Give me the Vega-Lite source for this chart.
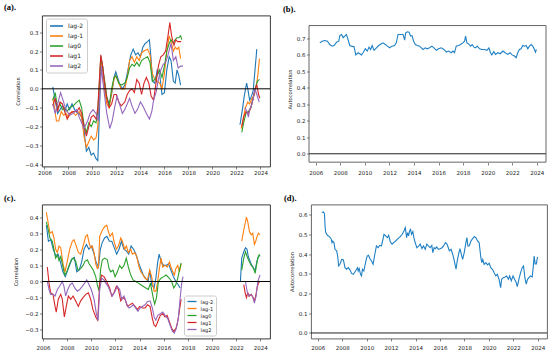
{
"$schema": "https://vega.github.io/schema/vega-lite/v6.json",
"padding": {"left": 3, "top": 2.5, "right": 0, "bottom": 0},
"background": "white",
"config": {
  "axis": {"labelFont": "DejaVu Sans", "labelFontSize": 5.5, "labelColor": "#222", "titleFont": "DejaVu Sans", "titleFontSize": 5.2, "titleFontWeight": "normal", "titleColor": "#222", "tickSize": 2.5, "tickColor": "#333", "tickWidth": 0.6, "labelPadding": 1.5, "domain": false, "grid": false, "titlePadding": 4, "labelFlush": false, "labelOverlap": false},
  "title": {"font": "Liberation Serif", "fontSize": 8.5, "fontWeight": "bold", "color": "#000", "anchor": "start", "frame": "group"},
  "legend": {"labelFont": "DejaVu Sans", "labelColor": "#222"}
},
"resolve": {"scale": {"color": "independent"}, "legend": {"color": "independent"}},
"datasets": {
"a": [
{"s":"lag-2","g":1,"t":2006.7,"v":0.01},{"s":"lag-2","g":1,"t":2006.9,"v":-0.06},{"s":"lag-2","g":1,"t":2007.1,"v":-0.13},{"s":"lag-2","g":1,"t":2007.3,"v":-0.11},{"s":"lag-2","g":1,"t":2007.5,"v":-0.09},{"s":"lag-2","g":1,"t":2007.7,"v":-0.12},{"s":"lag-2","g":1,"t":2007.9,"v":-0.08},{"s":"lag-2","g":1,"t":2008.1,"v":-0.11},{"s":"lag-2","g":1,"t":2008.3,"v":-0.08},{"s":"lag-2","g":1,"t":2008.6,"v":-0.12},{"s":"lag-2","g":1,"t":2008.9,"v":-0.13},{"s":"lag-2","g":1,"t":2009.1,"v":-0.15},{"s":"lag-2","g":1,"t":2009.3,"v":-0.22},{"s":"lag-2","g":1,"t":2009.5,"v":-0.33},{"s":"lag-2","g":1,"t":2009.7,"v":-0.31},{"s":"lag-2","g":1,"t":2009.9,"v":-0.35},{"s":"lag-2","g":1,"t":2010.1,"v":-0.34},{"s":"lag-2","g":1,"t":2010.3,"v":-0.37},{"s":"lag-2","g":1,"t":2010.45,"v":-0.38},{"s":"lag-2","g":1,"t":2010.6,"v":-0.1},{"s":"lag-2","g":1,"t":2010.7,"v":0.17},{"s":"lag-2","g":1,"t":2010.85,"v":0.12},{"s":"lag-2","g":1,"t":2011.0,"v":0.02},{"s":"lag-2","g":1,"t":2011.2,"v":-0.05},{"s":"lag-2","g":1,"t":2011.4,"v":-0.08},{"s":"lag-2","g":1,"t":2011.6,"v":-0.03},{"s":"lag-2","g":1,"t":2011.8,"v":0.06},{"s":"lag-2","g":1,"t":2011.95,"v":0.09},{"s":"lag-2","g":1,"t":2012.1,"v":0.06},{"s":"lag-2","g":1,"t":2012.3,"v":0.02},{"s":"lag-2","g":1,"t":2012.5,"v":0.0},{"s":"lag-2","g":1,"t":2012.7,"v":0.02},{"s":"lag-2","g":1,"t":2012.9,"v":0.08},{"s":"lag-2","g":1,"t":2013.05,"v":0.13},{"s":"lag-2","g":1,"t":2013.2,"v":0.18},{"s":"lag-2","g":1,"t":2013.4,"v":0.21},{"s":"lag-2","g":1,"t":2013.6,"v":0.18},{"s":"lag-2","g":1,"t":2013.8,"v":0.19},{"s":"lag-2","g":1,"t":2014.0,"v":0.17},{"s":"lag-2","g":1,"t":2014.2,"v":0.22},{"s":"lag-2","g":1,"t":2014.4,"v":0.24},{"s":"lag-2","g":1,"t":2014.6,"v":0.25},{"s":"lag-2","g":1,"t":2014.75,"v":0.26},{"s":"lag-2","g":1,"t":2014.9,"v":0.15},{"s":"lag-2","g":1,"t":2015.0,"v":0.04},{"s":"lag-2","g":1,"t":2015.2,"v":0.03},{"s":"lag-2","g":1,"t":2015.4,"v":0.1},{"s":"lag-2","g":1,"t":2015.6,"v":0.08},{"s":"lag-2","g":1,"t":2015.8,"v":-0.03},{"s":"lag-2","g":1,"t":2016.0,"v":-0.02},{"s":"lag-2","g":1,"t":2016.2,"v":0.1},{"s":"lag-2","g":1,"t":2016.4,"v":0.17},{"s":"lag-2","g":1,"t":2016.55,"v":0.15},{"s":"lag-2","g":1,"t":2016.75,"v":0.04},{"s":"lag-2","g":1,"t":2016.9,"v":0.03},{"s":"lag-2","g":1,"t":2017.05,"v":0.1},{"s":"lag-2","g":1,"t":2017.2,"v":0.07},{"s":"lag-2","g":1,"t":2017.35,"v":0.02},
{"s":"lag-2","g":2,"t":2022.3,"v":-0.19},{"s":"lag-2","g":2,"t":2022.5,"v":-0.11},{"s":"lag-2","g":2,"t":2022.65,"v":-0.04},{"s":"lag-2","g":2,"t":2022.85,"v":0.03},{"s":"lag-2","g":2,"t":2022.95,"v":0.0},{"s":"lag-2","g":2,"t":2023.1,"v":-0.06},{"s":"lag-2","g":2,"t":2023.25,"v":-0.04},{"s":"lag-2","g":2,"t":2023.4,"v":-0.01},{"s":"lag-2","g":2,"t":2023.55,"v":0.1},{"s":"lag-2","g":2,"t":2023.7,"v":0.21},
{"s":"lag-1","g":1,"t":2006.7,"v":-0.05},{"s":"lag-1","g":1,"t":2006.85,"v":-0.1},{"s":"lag-1","g":1,"t":2007.0,"v":-0.17},{"s":"lag-1","g":1,"t":2007.2,"v":-0.17},{"s":"lag-1","g":1,"t":2007.4,"v":-0.12},{"s":"lag-1","g":1,"t":2007.6,"v":-0.14},{"s":"lag-1","g":1,"t":2007.8,"v":-0.13},{"s":"lag-1","g":1,"t":2008.0,"v":-0.15},{"s":"lag-1","g":1,"t":2008.3,"v":-0.12},{"s":"lag-1","g":1,"t":2008.6,"v":-0.14},{"s":"lag-1","g":1,"t":2008.9,"v":-0.12},{"s":"lag-1","g":1,"t":2009.1,"v":-0.15},{"s":"lag-1","g":1,"t":2009.3,"v":-0.25},{"s":"lag-1","g":1,"t":2009.5,"v":-0.31},{"s":"lag-1","g":1,"t":2009.7,"v":-0.28},{"s":"lag-1","g":1,"t":2009.9,"v":-0.25},{"s":"lag-1","g":1,"t":2010.1,"v":-0.27},{"s":"lag-1","g":1,"t":2010.3,"v":-0.26},{"s":"lag-1","g":1,"t":2010.45,"v":-0.2},{"s":"lag-1","g":1,"t":2010.7,"v":0.16},{"s":"lag-1","g":1,"t":2010.85,"v":0.1},{"s":"lag-1","g":1,"t":2011.0,"v":0.0},{"s":"lag-1","g":1,"t":2011.2,"v":-0.08},{"s":"lag-1","g":1,"t":2011.4,"v":-0.1},{"s":"lag-1","g":1,"t":2011.6,"v":-0.02},{"s":"lag-1","g":1,"t":2011.8,"v":0.05},{"s":"lag-1","g":1,"t":2011.95,"v":0.07},{"s":"lag-1","g":1,"t":2012.2,"v":0.03},{"s":"lag-1","g":1,"t":2012.4,"v":0.0},{"s":"lag-1","g":1,"t":2012.7,"v":0.0},{"s":"lag-1","g":1,"t":2012.9,"v":0.06},{"s":"lag-1","g":1,"t":2013.1,"v":0.15},{"s":"lag-1","g":1,"t":2013.3,"v":0.17},{"s":"lag-1","g":1,"t":2013.5,"v":0.14},{"s":"lag-1","g":1,"t":2013.7,"v":0.17},{"s":"lag-1","g":1,"t":2013.9,"v":0.15},{"s":"lag-1","g":1,"t":2014.1,"v":0.19},{"s":"lag-1","g":1,"t":2014.3,"v":0.2},{"s":"lag-1","g":1,"t":2014.6,"v":0.21},{"s":"lag-1","g":1,"t":2014.8,"v":0.18},{"s":"lag-1","g":1,"t":2015.0,"v":0.08},{"s":"lag-1","g":1,"t":2015.2,"v":0.05},{"s":"lag-1","g":1,"t":2015.4,"v":0.04},{"s":"lag-1","g":1,"t":2015.6,"v":0.03},{"s":"lag-1","g":1,"t":2015.8,"v":0.0},{"s":"lag-1","g":1,"t":2016.0,"v":0.08},{"s":"lag-1","g":1,"t":2016.2,"v":0.2},{"s":"lag-1","g":1,"t":2016.4,"v":0.28},{"s":"lag-1","g":1,"t":2016.55,"v":0.25},{"s":"lag-1","g":1,"t":2016.75,"v":0.2},{"s":"lag-1","g":1,"t":2016.9,"v":0.22},{"s":"lag-1","g":1,"t":2017.05,"v":0.21},{"s":"lag-1","g":1,"t":2017.2,"v":0.22},{"s":"lag-1","g":1,"t":2017.35,"v":0.16},
{"s":"lag-1","g":2,"t":2022.4,"v":-0.21},{"s":"lag-1","g":2,"t":2022.6,"v":-0.15},{"s":"lag-1","g":2,"t":2022.75,"v":-0.1},{"s":"lag-1","g":2,"t":2022.95,"v":-0.07},{"s":"lag-1","g":2,"t":2023.1,"v":-0.08},{"s":"lag-1","g":2,"t":2023.3,"v":-0.05},{"s":"lag-1","g":2,"t":2023.5,"v":-0.03},{"s":"lag-1","g":2,"t":2023.65,"v":0.01},{"s":"lag-1","g":2,"t":2023.8,"v":0.08},{"s":"lag-1","g":2,"t":2023.92,"v":0.16},
{"s":"lag0","g":1,"t":2006.7,"v":-0.06},{"s":"lag0","g":1,"t":2006.9,"v":-0.02},{"s":"lag0","g":1,"t":2007.1,"v":-0.1},{"s":"lag0","g":1,"t":2007.3,"v":-0.08},{"s":"lag0","g":1,"t":2007.5,"v":-0.11},{"s":"lag0","g":1,"t":2007.7,"v":-0.1},{"s":"lag0","g":1,"t":2007.9,"v":-0.12},{"s":"lag0","g":1,"t":2008.1,"v":-0.1},{"s":"lag0","g":1,"t":2008.4,"v":-0.09},{"s":"lag0","g":1,"t":2008.7,"v":-0.07},{"s":"lag0","g":1,"t":2008.9,"v":-0.06},{"s":"lag0","g":1,"t":2009.1,"v":-0.1},{"s":"lag0","g":1,"t":2009.3,"v":-0.19},{"s":"lag0","g":1,"t":2009.5,"v":-0.23},{"s":"lag0","g":1,"t":2009.7,"v":-0.18},{"s":"lag0","g":1,"t":2009.9,"v":-0.2},{"s":"lag0","g":1,"t":2010.1,"v":-0.17},{"s":"lag0","g":1,"t":2010.3,"v":-0.18},{"s":"lag0","g":1,"t":2010.45,"v":-0.12},{"s":"lag0","g":1,"t":2010.7,"v":0.17},{"s":"lag0","g":1,"t":2010.85,"v":0.12},{"s":"lag0","g":1,"t":2011.0,"v":0.05},{"s":"lag0","g":1,"t":2011.2,"v":-0.04},{"s":"lag0","g":1,"t":2011.4,"v":-0.09},{"s":"lag0","g":1,"t":2011.6,"v":0.0},{"s":"lag0","g":1,"t":2011.8,"v":0.06},{"s":"lag0","g":1,"t":2011.95,"v":0.07},{"s":"lag0","g":1,"t":2012.2,"v":0.03},{"s":"lag0","g":1,"t":2012.4,"v":0.02},{"s":"lag0","g":1,"t":2012.7,"v":0.03},{"s":"lag0","g":1,"t":2012.9,"v":0.06},{"s":"lag0","g":1,"t":2013.1,"v":0.11},{"s":"lag0","g":1,"t":2013.3,"v":0.13},{"s":"lag0","g":1,"t":2013.5,"v":0.12},{"s":"lag0","g":1,"t":2013.7,"v":0.14},{"s":"lag0","g":1,"t":2013.9,"v":0.12},{"s":"lag0","g":1,"t":2014.1,"v":0.15},{"s":"lag0","g":1,"t":2014.3,"v":0.16},{"s":"lag0","g":1,"t":2014.6,"v":0.17},{"s":"lag0","g":1,"t":2014.8,"v":0.14},{"s":"lag0","g":1,"t":2015.0,"v":0.04},{"s":"lag0","g":1,"t":2015.2,"v":0.05},{"s":"lag0","g":1,"t":2015.4,"v":0.07},{"s":"lag0","g":1,"t":2015.6,"v":0.1},{"s":"lag0","g":1,"t":2015.8,"v":0.06},{"s":"lag0","g":1,"t":2016.0,"v":0.12},{"s":"lag0","g":1,"t":2016.2,"v":0.2},{"s":"lag0","g":1,"t":2016.4,"v":0.24},{"s":"lag0","g":1,"t":2016.55,"v":0.26},{"s":"lag0","g":1,"t":2016.75,"v":0.24},{"s":"lag0","g":1,"t":2016.9,"v":0.26},{"s":"lag0","g":1,"t":2017.05,"v":0.27},{"s":"lag0","g":1,"t":2017.2,"v":0.27},{"s":"lag0","g":1,"t":2017.35,"v":0.28},{"s":"lag0","g":1,"t":2017.45,"v":0.26},
{"s":"lag0","g":2,"t":2022.45,"v":-0.23},{"s":"lag0","g":2,"t":2022.6,"v":-0.18},{"s":"lag0","g":2,"t":2022.8,"v":-0.13},{"s":"lag0","g":2,"t":2023.0,"v":-0.12},{"s":"lag0","g":2,"t":2023.2,"v":-0.1},{"s":"lag0","g":2,"t":2023.4,"v":-0.05},{"s":"lag0","g":2,"t":2023.6,"v":0.01},{"s":"lag0","g":2,"t":2023.75,"v":0.04},{"s":"lag0","g":2,"t":2023.92,"v":0.05},
{"s":"lag1","g":1,"t":2006.7,"v":-0.09},{"s":"lag1","g":1,"t":2006.9,"v":-0.05},{"s":"lag1","g":1,"t":2007.1,"v":-0.12},{"s":"lag1","g":1,"t":2007.3,"v":-0.07},{"s":"lag1","g":1,"t":2007.5,"v":-0.08},{"s":"lag1","g":1,"t":2007.7,"v":-0.12},{"s":"lag1","g":1,"t":2007.9,"v":-0.16},{"s":"lag1","g":1,"t":2008.1,"v":-0.13},{"s":"lag1","g":1,"t":2008.4,"v":-0.12},{"s":"lag1","g":1,"t":2008.7,"v":-0.12},{"s":"lag1","g":1,"t":2008.9,"v":-0.1},{"s":"lag1","g":1,"t":2009.1,"v":-0.13},{"s":"lag1","g":1,"t":2009.3,"v":-0.2},{"s":"lag1","g":1,"t":2009.5,"v":-0.25},{"s":"lag1","g":1,"t":2009.7,"v":-0.2},{"s":"lag1","g":1,"t":2009.9,"v":-0.15},{"s":"lag1","g":1,"t":2010.1,"v":-0.14},{"s":"lag1","g":1,"t":2010.3,"v":-0.16},{"s":"lag1","g":1,"t":2010.45,"v":-0.1},{"s":"lag1","g":1,"t":2010.7,"v":0.18},{"s":"lag1","g":1,"t":2010.85,"v":0.12},{"s":"lag1","g":1,"t":2011.0,"v":0.04},{"s":"lag1","g":1,"t":2011.2,"v":-0.05},{"s":"lag1","g":1,"t":2011.4,"v":-0.1},{"s":"lag1","g":1,"t":2011.6,"v":-0.08},{"s":"lag1","g":1,"t":2011.8,"v":-0.03},{"s":"lag1","g":1,"t":2012.0,"v":-0.03},{"s":"lag1","g":1,"t":2012.2,"v":-0.07},{"s":"lag1","g":1,"t":2012.4,"v":-0.09},{"s":"lag1","g":1,"t":2012.7,"v":-0.07},{"s":"lag1","g":1,"t":2012.9,"v":-0.03},{"s":"lag1","g":1,"t":2013.1,"v":-0.01},{"s":"lag1","g":1,"t":2013.3,"v":0.0},{"s":"lag1","g":1,"t":2013.5,"v":-0.02},{"s":"lag1","g":1,"t":2013.7,"v":0.05},{"s":"lag1","g":1,"t":2013.9,"v":0.03},{"s":"lag1","g":1,"t":2014.1,"v":-0.03},{"s":"lag1","g":1,"t":2014.3,"v":0.03},{"s":"lag1","g":1,"t":2014.5,"v":0.06},{"s":"lag1","g":1,"t":2014.7,"v":0.03},{"s":"lag1","g":1,"t":2014.9,"v":-0.04},{"s":"lag1","g":1,"t":2015.1,"v":-0.06},{"s":"lag1","g":1,"t":2015.3,"v":0.03},{"s":"lag1","g":1,"t":2015.5,"v":0.12},{"s":"lag1","g":1,"t":2015.7,"v":0.17},{"s":"lag1","g":1,"t":2015.9,"v":0.18},{"s":"lag1","g":1,"t":2016.1,"v":0.2},{"s":"lag1","g":1,"t":2016.3,"v":0.28},{"s":"lag1","g":1,"t":2016.45,"v":0.35},{"s":"lag1","g":1,"t":2016.6,"v":0.28},{"s":"lag1","g":1,"t":2016.8,"v":0.23},{"s":"lag1","g":1,"t":2016.95,"v":0.26},{"s":"lag1","g":1,"t":2017.1,"v":0.25},{"s":"lag1","g":1,"t":2017.25,"v":0.25},{"s":"lag1","g":1,"t":2017.4,"v":0.25},
{"s":"lag1","g":2,"t":2022.45,"v":-0.2},{"s":"lag1","g":2,"t":2022.6,"v":-0.15},{"s":"lag1","g":2,"t":2022.8,"v":-0.12},{"s":"lag1","g":2,"t":2023.0,"v":-0.13},{"s":"lag1","g":2,"t":2023.2,"v":-0.1},{"s":"lag1","g":2,"t":2023.4,"v":-0.05},{"s":"lag1","g":2,"t":2023.55,"v":0.0},{"s":"lag1","g":2,"t":2023.7,"v":0.02},{"s":"lag1","g":2,"t":2023.85,"v":-0.03},{"s":"lag1","g":2,"t":2023.95,"v":-0.05},
{"s":"lag2","g":1,"t":2006.7,"v":-0.08},{"s":"lag2","g":1,"t":2006.9,"v":-0.13},{"s":"lag2","g":1,"t":2007.1,"v":-0.08},{"s":"lag2","g":1,"t":2007.35,"v":-0.02},{"s":"lag2","g":1,"t":2007.55,"v":-0.06},{"s":"lag2","g":1,"t":2007.8,"v":-0.11},{"s":"lag2","g":1,"t":2008.1,"v":-0.14},{"s":"lag2","g":1,"t":2008.4,"v":-0.13},{"s":"lag2","g":1,"t":2008.7,"v":-0.11},{"s":"lag2","g":1,"t":2008.9,"v":-0.15},{"s":"lag2","g":1,"t":2009.3,"v":-0.21},{"s":"lag2","g":1,"t":2009.6,"v":-0.17},{"s":"lag2","g":1,"t":2009.8,"v":-0.13},{"s":"lag2","g":1,"t":2010.05,"v":-0.11},{"s":"lag2","g":1,"t":2010.3,"v":-0.13},{"s":"lag2","g":1,"t":2010.48,"v":-0.17},{"s":"lag2","g":1,"t":2010.65,"v":-0.01},{"s":"lag2","g":1,"t":2010.75,"v":0.12},{"s":"lag2","g":1,"t":2010.85,"v":0.05},{"s":"lag2","g":1,"t":2011.2,"v":-0.13},{"s":"lag2","g":1,"t":2011.45,"v":-0.21},{"s":"lag2","g":1,"t":2011.65,"v":-0.17},{"s":"lag2","g":1,"t":2011.85,"v":-0.1},{"s":"lag2","g":1,"t":2012.05,"v":-0.04},{"s":"lag2","g":1,"t":2012.25,"v":-0.08},{"s":"lag2","g":1,"t":2012.5,"v":-0.13},{"s":"lag2","g":1,"t":2012.7,"v":-0.11},{"s":"lag2","g":1,"t":2012.9,"v":-0.08},{"s":"lag2","g":1,"t":2013.1,"v":-0.05},{"s":"lag2","g":1,"t":2013.3,"v":-0.09},{"s":"lag2","g":1,"t":2013.55,"v":-0.13},{"s":"lag2","g":1,"t":2013.75,"v":-0.11},{"s":"lag2","g":1,"t":2014.0,"v":-0.07},{"s":"lag2","g":1,"t":2014.2,"v":-0.09},{"s":"lag2","g":1,"t":2014.5,"v":-0.13},{"s":"lag2","g":1,"t":2014.75,"v":-0.16},{"s":"lag2","g":1,"t":2014.95,"v":-0.12},{"s":"lag2","g":1,"t":2015.1,"v":-0.06},{"s":"lag2","g":1,"t":2015.3,"v":-0.02},{"s":"lag2","g":1,"t":2015.5,"v":0.05},{"s":"lag2","g":1,"t":2015.7,"v":0.1},{"s":"lag2","g":1,"t":2015.9,"v":0.13},{"s":"lag2","g":1,"t":2016.1,"v":0.14},{"s":"lag2","g":1,"t":2016.3,"v":0.18},{"s":"lag2","g":1,"t":2016.55,"v":0.24},{"s":"lag2","g":1,"t":2016.75,"v":0.15},{"s":"lag2","g":1,"t":2016.95,"v":0.17},{"s":"lag2","g":1,"t":2017.15,"v":0.11},{"s":"lag2","g":1,"t":2017.35,"v":0.12},{"s":"lag2","g":1,"t":2017.55,"v":0.12},
{"s":"lag2","g":2,"t":2022.7,"v":-0.1},{"s":"lag2","g":2,"t":2022.88,"v":-0.12},{"s":"lag2","g":2,"t":2023.0,"v":-0.15},{"s":"lag2","g":2,"t":2023.1,"v":-0.11},{"s":"lag2","g":2,"t":2023.25,"v":-0.09},{"s":"lag2","g":2,"t":2023.4,"v":-0.05},{"s":"lag2","g":2,"t":2023.55,"v":0.0},{"s":"lag2","g":2,"t":2023.7,"v":-0.03},{"s":"lag2","g":2,"t":2023.9,"v":-0.07}
],
"c": [
{"s":"lag-2","g":1,"t":2006.28,"v":0.35},{"s":"lag-2","g":1,"t":2006.45,"v":0.25},{"s":"lag-2","g":1,"t":2006.65,"v":0.26},{"s":"lag-2","g":1,"t":2006.85,"v":0.2},{"s":"lag-2","g":1,"t":2007.05,"v":0.16},{"s":"lag-2","g":1,"t":2007.25,"v":0.17},{"s":"lag-2","g":1,"t":2007.45,"v":0.12},{"s":"lag-2","g":1,"t":2007.65,"v":0.06},{"s":"lag-2","g":1,"t":2007.85,"v":0.03},{"s":"lag-2","g":1,"t":2008.0,"v":0.06},{"s":"lag-2","g":1,"t":2008.2,"v":0.1},{"s":"lag-2","g":1,"t":2008.4,"v":0.14},{"s":"lag-2","g":1,"t":2008.6,"v":0.15},{"s":"lag-2","g":1,"t":2008.8,"v":0.06},{"s":"lag-2","g":1,"t":2009.0,"v":0.07},{"s":"lag-2","g":1,"t":2009.2,"v":0.12},{"s":"lag-2","g":1,"t":2009.4,"v":0.2},{"s":"lag-2","g":1,"t":2009.6,"v":0.23},{"s":"lag-2","g":1,"t":2009.8,"v":0.2},{"s":"lag-2","g":1,"t":2010.0,"v":0.22},{"s":"lag-2","g":1,"t":2010.2,"v":0.18},{"s":"lag-2","g":1,"t":2010.4,"v":0.12},{"s":"lag-2","g":1,"t":2010.6,"v":0.09},{"s":"lag-2","g":1,"t":2010.75,"v":0.2},{"s":"lag-2","g":1,"t":2010.9,"v":0.24},{"s":"lag-2","g":1,"t":2011.1,"v":0.27},{"s":"lag-2","g":1,"t":2011.3,"v":0.28},{"s":"lag-2","g":1,"t":2011.5,"v":0.25},{"s":"lag-2","g":1,"t":2011.7,"v":0.25},{"s":"lag-2","g":1,"t":2011.9,"v":0.21},{"s":"lag-2","g":1,"t":2012.1,"v":0.17},{"s":"lag-2","g":1,"t":2012.3,"v":0.2},{"s":"lag-2","g":1,"t":2012.5,"v":0.25},{"s":"lag-2","g":1,"t":2012.7,"v":0.2},{"s":"lag-2","g":1,"t":2012.9,"v":0.19},{"s":"lag-2","g":1,"t":2013.1,"v":0.17},{"s":"lag-2","g":1,"t":2013.3,"v":0.22},{"s":"lag-2","g":1,"t":2013.5,"v":0.2},{"s":"lag-2","g":1,"t":2013.7,"v":0.17},{"s":"lag-2","g":1,"t":2013.9,"v":0.12},{"s":"lag-2","g":1,"t":2014.1,"v":0.08},{"s":"lag-2","g":1,"t":2014.3,"v":0.04},{"s":"lag-2","g":1,"t":2014.5,"v":0.02},{"s":"lag-2","g":1,"t":2014.7,"v":0.0},{"s":"lag-2","g":1,"t":2014.85,"v":0.07},{"s":"lag-2","g":1,"t":2015.0,"v":-0.02},{"s":"lag-2","g":1,"t":2015.2,"v":-0.04},{"s":"lag-2","g":1,"t":2015.35,"v":0.02},{"s":"lag-2","g":1,"t":2015.5,"v":0.12},{"s":"lag-2","g":1,"t":2015.62,"v":0.17},{"s":"lag-2","g":1,"t":2015.8,"v":0.12},{"s":"lag-2","g":1,"t":2016.0,"v":0.1},{"s":"lag-2","g":1,"t":2016.2,"v":0.1},{"s":"lag-2","g":1,"t":2016.4,"v":0.11},{"s":"lag-2","g":1,"t":2016.6,"v":0.07},{"s":"lag-2","g":1,"t":2016.8,"v":0.03},{"s":"lag-2","g":1,"t":2017.0,"v":0.0},{"s":"lag-2","g":1,"t":2017.2,"v":-0.02},{"s":"lag-2","g":1,"t":2017.35,"v":-0.04},
{"s":"lag-2","g":2,"t":2022.35,"v":0.0},{"s":"lag-2","g":2,"t":2022.46,"v":0.145},{"s":"lag-2","g":2,"t":2022.63,"v":0.185},{"s":"lag-2","g":2,"t":2022.77,"v":0.21},{"s":"lag-2","g":2,"t":2022.9,"v":0.2},{"s":"lag-2","g":2,"t":2023.0,"v":0.155},{"s":"lag-2","g":2,"t":2023.18,"v":0.12},{"s":"lag-2","g":2,"t":2023.3,"v":0.1},{"s":"lag-2","g":2,"t":2023.45,"v":0.08},{"s":"lag-2","g":2,"t":2023.57,"v":0.07},{"s":"lag-2","g":2,"t":2023.73,"v":0.13},{"s":"lag-2","g":2,"t":2023.85,"v":0.155},{"s":"lag-2","g":2,"t":2023.96,"v":0.165},
{"s":"lag-1","g":1,"t":2006.28,"v":0.43},{"s":"lag-1","g":1,"t":2006.44,"v":0.36},{"s":"lag-1","g":1,"t":2006.58,"v":0.3},{"s":"lag-1","g":1,"t":2006.77,"v":0.31},{"s":"lag-1","g":1,"t":2006.91,"v":0.27},{"s":"lag-1","g":1,"t":2007.05,"v":0.2},{"s":"lag-1","g":1,"t":2007.19,"v":0.18},{"s":"lag-1","g":1,"t":2007.33,"v":0.22},{"s":"lag-1","g":1,"t":2007.47,"v":0.21},{"s":"lag-1","g":1,"t":2007.66,"v":0.11},{"s":"lag-1","g":1,"t":2007.82,"v":0.06},{"s":"lag-1","g":1,"t":2008.0,"v":0.12},{"s":"lag-1","g":1,"t":2008.21,"v":0.2},{"s":"lag-1","g":1,"t":2008.43,"v":0.25},{"s":"lag-1","g":1,"t":2008.57,"v":0.26},{"s":"lag-1","g":1,"t":2008.76,"v":0.22},{"s":"lag-1","g":1,"t":2008.93,"v":0.18},{"s":"lag-1","g":1,"t":2009.12,"v":0.17},{"s":"lag-1","g":1,"t":2009.32,"v":0.22},{"s":"lag-1","g":1,"t":2009.54,"v":0.28},{"s":"lag-1","g":1,"t":2009.68,"v":0.29},{"s":"lag-1","g":1,"t":2009.82,"v":0.24},{"s":"lag-1","g":1,"t":2009.95,"v":0.21},{"s":"lag-1","g":1,"t":2010.09,"v":0.22},{"s":"lag-1","g":1,"t":2010.23,"v":0.18},{"s":"lag-1","g":1,"t":2010.37,"v":0.11},{"s":"lag-1","g":1,"t":2010.5,"v":0.08},{"s":"lag-1","g":1,"t":2010.59,"v":0.09},{"s":"lag-1","g":1,"t":2010.7,"v":0.28},{"s":"lag-1","g":1,"t":2010.92,"v":0.32},{"s":"lag-1","g":1,"t":2011.11,"v":0.34},{"s":"lag-1","g":1,"t":2011.28,"v":0.35},{"s":"lag-1","g":1,"t":2011.42,"v":0.31},{"s":"lag-1","g":1,"t":2011.55,"v":0.28},{"s":"lag-1","g":1,"t":2011.75,"v":0.3},{"s":"lag-1","g":1,"t":2011.88,"v":0.25},{"s":"lag-1","g":1,"t":2012.08,"v":0.2},{"s":"lag-1","g":1,"t":2012.25,"v":0.22},{"s":"lag-1","g":1,"t":2012.44,"v":0.27},{"s":"lag-1","g":1,"t":2012.58,"v":0.25},{"s":"lag-1","g":1,"t":2012.77,"v":0.2},{"s":"lag-1","g":1,"t":2012.91,"v":0.22},{"s":"lag-1","g":1,"t":2013.07,"v":0.18},{"s":"lag-1","g":1,"t":2013.27,"v":0.2},{"s":"lag-1","g":1,"t":2013.4,"v":0.17},{"s":"lag-1","g":1,"t":2013.6,"v":0.18},{"s":"lag-1","g":1,"t":2013.76,"v":0.155},{"s":"lag-1","g":1,"t":2013.96,"v":0.09},{"s":"lag-1","g":1,"t":2014.1,"v":0.06},{"s":"lag-1","g":1,"t":2014.29,"v":0.04},{"s":"lag-1","g":1,"t":2014.45,"v":0.02},{"s":"lag-1","g":1,"t":2014.65,"v":0.01},{"s":"lag-1","g":1,"t":2014.84,"v":0.07},{"s":"lag-1","g":1,"t":2015.0,"v":0.03},{"s":"lag-1","g":1,"t":2015.2,"v":-0.06},{"s":"lag-1","g":1,"t":2015.36,"v":-0.06},{"s":"lag-1","g":1,"t":2015.5,"v":0.0},{"s":"lag-1","g":1,"t":2015.64,"v":0.08},{"s":"lag-1","g":1,"t":2015.78,"v":0.145},{"s":"lag-1","g":1,"t":2015.92,"v":0.09},{"s":"lag-1","g":1,"t":2016.1,"v":0.1},{"s":"lag-1","g":1,"t":2016.3,"v":0.09},{"s":"lag-1","g":1,"t":2016.47,"v":0.12},{"s":"lag-1","g":1,"t":2016.6,"v":0.09},{"s":"lag-1","g":1,"t":2016.75,"v":0.06},{"s":"lag-1","g":1,"t":2016.88,"v":0.04},{"s":"lag-1","g":1,"t":2017.0,"v":0.08},{"s":"lag-1","g":1,"t":2017.16,"v":0.1},{"s":"lag-1","g":1,"t":2017.3,"v":0.06},{"s":"lag-1","g":1,"t":2017.44,"v":0.11},
{"s":"lag-1","g":2,"t":2022.46,"v":0.25},{"s":"lag-1","g":2,"t":2022.63,"v":0.32},{"s":"lag-1","g":2,"t":2022.74,"v":0.36},{"s":"lag-1","g":2,"t":2022.85,"v":0.4},{"s":"lag-1","g":2,"t":2022.96,"v":0.37},{"s":"lag-1","g":2,"t":2023.1,"v":0.31},{"s":"lag-1","g":2,"t":2023.24,"v":0.29},{"s":"lag-1","g":2,"t":2023.37,"v":0.3},{"s":"lag-1","g":2,"t":2023.51,"v":0.23},{"s":"lag-1","g":2,"t":2023.62,"v":0.25},{"s":"lag-1","g":2,"t":2023.73,"v":0.28},{"s":"lag-1","g":2,"t":2023.84,"v":0.3},{"s":"lag-1","g":2,"t":2023.96,"v":0.29},
{"s":"lag0","g":1,"t":2006.28,"v":0.37},{"s":"lag0","g":1,"t":2006.44,"v":0.32},{"s":"lag0","g":1,"t":2006.58,"v":0.27},{"s":"lag0","g":1,"t":2006.77,"v":0.25},{"s":"lag0","g":1,"t":2006.91,"v":0.2},{"s":"lag0","g":1,"t":2007.05,"v":0.145},{"s":"lag0","g":1,"t":2007.19,"v":0.165},{"s":"lag0","g":1,"t":2007.33,"v":0.13},{"s":"lag0","g":1,"t":2007.47,"v":0.155},{"s":"lag0","g":1,"t":2007.66,"v":0.09},{"s":"lag0","g":1,"t":2007.8,"v":0.04},{"s":"lag0","g":1,"t":2007.97,"v":0.06},{"s":"lag0","g":1,"t":2008.16,"v":0.1},{"s":"lag0","g":1,"t":2008.35,"v":0.135},{"s":"lag0","g":1,"t":2008.52,"v":0.145},{"s":"lag0","g":1,"t":2008.71,"v":0.125},{"s":"lag0","g":1,"t":2008.9,"v":0.07},{"s":"lag0","g":1,"t":2009.12,"v":0.08},{"s":"lag0","g":1,"t":2009.32,"v":0.1},{"s":"lag0","g":1,"t":2009.48,"v":0.125},{"s":"lag0","g":1,"t":2009.68,"v":0.135},{"s":"lag0","g":1,"t":2009.82,"v":0.11},{"s":"lag0","g":1,"t":2010.0,"v":0.09},{"s":"lag0","g":1,"t":2010.17,"v":0.07},{"s":"lag0","g":1,"t":2010.37,"v":0.03},{"s":"lag0","g":1,"t":2010.5,"v":-0.02},{"s":"lag0","g":1,"t":2010.64,"v":-0.06},{"s":"lag0","g":1,"t":2010.78,"v":0.08},{"s":"lag0","g":1,"t":2010.92,"v":0.135},{"s":"lag0","g":1,"t":2011.11,"v":0.145},{"s":"lag0","g":1,"t":2011.33,"v":0.135},{"s":"lag0","g":1,"t":2011.47,"v":0.08},{"s":"lag0","g":1,"t":2011.61,"v":0.06},{"s":"lag0","g":1,"t":2011.8,"v":0.07},{"s":"lag0","g":1,"t":2011.97,"v":0.03},{"s":"lag0","g":1,"t":2012.16,"v":0.06},{"s":"lag0","g":1,"t":2012.35,"v":0.1},{"s":"lag0","g":1,"t":2012.52,"v":0.08},{"s":"lag0","g":1,"t":2012.71,"v":0.1},{"s":"lag0","g":1,"t":2012.9,"v":0.145},{"s":"lag0","g":1,"t":2013.07,"v":0.09},{"s":"lag0","g":1,"t":2013.27,"v":0.04},{"s":"lag0","g":1,"t":2013.46,"v":0.01},{"s":"lag0","g":1,"t":2013.68,"v":0.0},{"s":"lag0","g":1,"t":2013.9,"v":-0.01},{"s":"lag0","g":1,"t":2014.1,"v":-0.02},{"s":"lag0","g":1,"t":2014.29,"v":-0.03},{"s":"lag0","g":1,"t":2014.51,"v":-0.04},{"s":"lag0","g":1,"t":2014.73,"v":-0.05},{"s":"lag0","g":1,"t":2014.9,"v":-0.01},{"s":"lag0","g":1,"t":2015.0,"v":-0.05},{"s":"lag0","g":1,"t":2015.15,"v":-0.11},{"s":"lag0","g":1,"t":2015.25,"v":-0.14},{"s":"lag0","g":1,"t":2015.4,"v":-0.1},{"s":"lag0","g":1,"t":2015.56,"v":0.0},{"s":"lag0","g":1,"t":2015.78,"v":0.02},{"s":"lag0","g":1,"t":2016.0,"v":0.03},{"s":"lag0","g":1,"t":2016.2,"v":0.04},{"s":"lag0","g":1,"t":2016.47,"v":0.02},{"s":"lag0","g":1,"t":2016.66,"v":0.0},{"s":"lag0","g":1,"t":2016.83,"v":-0.04},{"s":"lag0","g":1,"t":2017.0,"v":-0.02},{"s":"lag0","g":1,"t":2017.16,"v":0.02},{"s":"lag0","g":1,"t":2017.3,"v":0.07},{"s":"lag0","g":1,"t":2017.44,"v":0.115},
{"s":"lag0","g":2,"t":2022.46,"v":0.07},{"s":"lag0","g":2,"t":2022.63,"v":0.145},{"s":"lag0","g":2,"t":2022.77,"v":0.185},{"s":"lag0","g":2,"t":2022.9,"v":0.155},{"s":"lag0","g":2,"t":2023.07,"v":0.125},{"s":"lag0","g":2,"t":2023.24,"v":0.1},{"s":"lag0","g":2,"t":2023.4,"v":0.09},{"s":"lag0","g":2,"t":2023.57,"v":0.05},{"s":"lag0","g":2,"t":2023.68,"v":0.1},{"s":"lag0","g":2,"t":2023.79,"v":0.145},{"s":"lag0","g":2,"t":2023.9,"v":0.165},{"s":"lag0","g":2,"t":2023.97,"v":0.155},
{"s":"lag1","g":1,"t":2006.36,"v":0.09},{"s":"lag1","g":1,"t":2006.5,"v":-0.01},{"s":"lag1","g":1,"t":2006.64,"v":-0.07},{"s":"lag1","g":1,"t":2006.83,"v":-0.08},{"s":"lag1","g":1,"t":2007.0,"v":-0.155},{"s":"lag1","g":1,"t":2007.1,"v":-0.19},{"s":"lag1","g":1,"t":2007.27,"v":-0.11},{"s":"lag1","g":1,"t":2007.47,"v":-0.08},{"s":"lag1","g":1,"t":2007.6,"v":-0.11},{"s":"lag1","g":1,"t":2007.77,"v":-0.22},{"s":"lag1","g":1,"t":2007.93,"v":-0.155},{"s":"lag1","g":1,"t":2008.1,"v":-0.09},{"s":"lag1","g":1,"t":2008.3,"v":-0.11},{"s":"lag1","g":1,"t":2008.49,"v":-0.09},{"s":"lag1","g":1,"t":2008.7,"v":-0.12},{"s":"lag1","g":1,"t":2008.93,"v":-0.155},{"s":"lag1","g":1,"t":2009.12,"v":-0.12},{"s":"lag1","g":1,"t":2009.32,"v":-0.1},{"s":"lag1","g":1,"t":2009.54,"v":-0.08},{"s":"lag1","g":1,"t":2009.76,"v":-0.07},{"s":"lag1","g":1,"t":2009.95,"v":-0.11},{"s":"lag1","g":1,"t":2010.14,"v":-0.175},{"s":"lag1","g":1,"t":2010.37,"v":-0.22},{"s":"lag1","g":1,"t":2010.53,"v":-0.24},{"s":"lag1","g":1,"t":2010.7,"v":-0.01},{"s":"lag1","g":1,"t":2010.86,"v":0.04},{"s":"lag1","g":1,"t":2011.05,"v":0.03},{"s":"lag1","g":1,"t":2011.2,"v":0.01},{"s":"lag1","g":1,"t":2011.33,"v":-0.01},{"s":"lag1","g":1,"t":2011.52,"v":-0.04},{"s":"lag1","g":1,"t":2011.69,"v":-0.09},{"s":"lag1","g":1,"t":2011.88,"v":-0.07},{"s":"lag1","g":1,"t":2012.08,"v":-0.03},{"s":"lag1","g":1,"t":2012.25,"v":-0.05},{"s":"lag1","g":1,"t":2012.44,"v":-0.12},{"s":"lag1","g":1,"t":2012.63,"v":-0.1},{"s":"lag1","g":1,"t":2012.8,"v":-0.11},{"s":"lag1","g":1,"t":2012.99,"v":-0.155},{"s":"lag1","g":1,"t":2013.18,"v":-0.145},{"s":"lag1","g":1,"t":2013.4,"v":-0.135},{"s":"lag1","g":1,"t":2013.62,"v":-0.155},{"s":"lag1","g":1,"t":2013.82,"v":-0.175},{"s":"lag1","g":1,"t":2014.01,"v":-0.155},{"s":"lag1","g":1,"t":2014.23,"v":-0.165},{"s":"lag1","g":1,"t":2014.45,"v":-0.165},{"s":"lag1","g":1,"t":2014.65,"v":-0.145},{"s":"lag1","g":1,"t":2014.87,"v":-0.155},{"s":"lag1","g":1,"t":2015.06,"v":-0.23},{"s":"lag1","g":1,"t":2015.2,"v":-0.27},{"s":"lag1","g":1,"t":2015.34,"v":-0.28},{"s":"lag1","g":1,"t":2015.5,"v":-0.25},{"s":"lag1","g":1,"t":2015.72,"v":-0.21},{"s":"lag1","g":1,"t":2015.92,"v":-0.2},{"s":"lag1","g":1,"t":2016.11,"v":-0.22},{"s":"lag1","g":1,"t":2016.28,"v":-0.21},{"s":"lag1","g":1,"t":2016.47,"v":-0.25},{"s":"lag1","g":1,"t":2016.66,"v":-0.29},{"s":"lag1","g":1,"t":2016.83,"v":-0.31},{"s":"lag1","g":1,"t":2017.02,"v":-0.29},{"s":"lag1","g":1,"t":2017.16,"v":-0.25},{"s":"lag1","g":1,"t":2017.3,"v":-0.18},{"s":"lag1","g":1,"t":2017.44,"v":-0.11},
{"s":"lag1","g":2,"t":2022.63,"v":-0.02},{"s":"lag1","g":2,"t":2022.74,"v":-0.07},{"s":"lag1","g":2,"t":2022.85,"v":-0.1},{"s":"lag1","g":2,"t":2022.96,"v":-0.07},{"s":"lag1","g":2,"t":2023.1,"v":-0.09},{"s":"lag1","g":2,"t":2023.24,"v":-0.08},{"s":"lag1","g":2,"t":2023.4,"v":-0.1},{"s":"lag1","g":2,"t":2023.51,"v":-0.12},{"s":"lag1","g":2,"t":2023.62,"v":-0.09},{"s":"lag1","g":2,"t":2023.73,"v":-0.04},{"s":"lag1","g":2,"t":2023.84,"v":-0.01},{"s":"lag1","g":2,"t":2023.96,"v":0.0},
{"s":"lag2","g":1,"t":2006.36,"v":0.0},{"s":"lag2","g":1,"t":2006.5,"v":-0.05},{"s":"lag2","g":1,"t":2006.64,"v":-0.08},{"s":"lag2","g":1,"t":2006.83,"v":-0.08},{"s":"lag2","g":1,"t":2007.0,"v":-0.09},{"s":"lag2","g":1,"t":2007.19,"v":-0.05},{"s":"lag2","g":1,"t":2007.38,"v":-0.03},{"s":"lag2","g":1,"t":2007.6,"v":0.0},{"s":"lag2","g":1,"t":2007.74,"v":-0.03},{"s":"lag2","g":1,"t":2007.88,"v":-0.09},{"s":"lag2","g":1,"t":2008.05,"v":-0.05},{"s":"lag2","g":1,"t":2008.24,"v":-0.02},{"s":"lag2","g":1,"t":2008.43,"v":-0.01},{"s":"lag2","g":1,"t":2008.63,"v":-0.04},{"s":"lag2","g":1,"t":2008.85,"v":-0.06},{"s":"lag2","g":1,"t":2009.04,"v":-0.05},{"s":"lag2","g":1,"t":2009.26,"v":-0.03},{"s":"lag2","g":1,"t":2009.45,"v":-0.01},{"s":"lag2","g":1,"t":2009.62,"v":0.01},{"s":"lag2","g":1,"t":2009.82,"v":-0.02},{"s":"lag2","g":1,"t":2010.0,"v":-0.05},{"s":"lag2","g":1,"t":2010.23,"v":-0.11},{"s":"lag2","g":1,"t":2010.42,"v":-0.2},{"s":"lag2","g":1,"t":2010.56,"v":-0.24},{"s":"lag2","g":1,"t":2010.7,"v":-0.05},{"s":"lag2","g":1,"t":2010.86,"v":0.02},{"s":"lag2","g":1,"t":2011.05,"v":0.01},{"s":"lag2","g":1,"t":2011.2,"v":-0.01},{"s":"lag2","g":1,"t":2011.39,"v":-0.03},{"s":"lag2","g":1,"t":2011.55,"v":-0.06},{"s":"lag2","g":1,"t":2011.75,"v":-0.09},{"s":"lag2","g":1,"t":2011.97,"v":-0.06},{"s":"lag2","g":1,"t":2012.16,"v":-0.03},{"s":"lag2","g":1,"t":2012.35,"v":-0.05},{"s":"lag2","g":1,"t":2012.52,"v":-0.11},{"s":"lag2","g":1,"t":2012.71,"v":-0.09},{"s":"lag2","g":1,"t":2012.91,"v":-0.135},{"s":"lag2","g":1,"t":2013.13,"v":-0.165},{"s":"lag2","g":1,"t":2013.32,"v":-0.155},{"s":"lag2","g":1,"t":2013.49,"v":-0.145},{"s":"lag2","g":1,"t":2013.68,"v":-0.165},{"s":"lag2","g":1,"t":2013.87,"v":-0.185},{"s":"lag2","g":1,"t":2014.04,"v":-0.165},{"s":"lag2","g":1,"t":2014.23,"v":-0.155},{"s":"lag2","g":1,"t":2014.45,"v":-0.145},{"s":"lag2","g":1,"t":2014.65,"v":-0.125},{"s":"lag2","g":1,"t":2014.87,"v":-0.12},{"s":"lag2","g":1,"t":2015.06,"v":-0.165},{"s":"lag2","g":1,"t":2015.2,"v":-0.22},{"s":"lag2","g":1,"t":2015.34,"v":-0.24},{"s":"lag2","g":1,"t":2015.5,"v":-0.21},{"s":"lag2","g":1,"t":2015.72,"v":-0.2},{"s":"lag2","g":1,"t":2015.92,"v":-0.19},{"s":"lag2","g":1,"t":2016.11,"v":-0.21},{"s":"lag2","g":1,"t":2016.33,"v":-0.23},{"s":"lag2","g":1,"t":2016.52,"v":-0.27},{"s":"lag2","g":1,"t":2016.72,"v":-0.31},{"s":"lag2","g":1,"t":2016.88,"v":-0.32},{"s":"lag2","g":1,"t":2017.05,"v":-0.29},{"s":"lag2","g":1,"t":2017.22,"v":-0.22},{"s":"lag2","g":1,"t":2017.35,"v":-0.11},{"s":"lag2","g":1,"t":2017.49,"v":-0.01},{"s":"lag2","g":1,"t":2017.6,"v":0.03},
{"s":"lag2","g":2,"t":2022.77,"v":0.0},{"s":"lag2","g":2,"t":2022.9,"v":-0.06},{"s":"lag2","g":2,"t":2023.02,"v":-0.09},{"s":"lag2","g":2,"t":2023.18,"v":-0.08},{"s":"lag2","g":2,"t":2023.35,"v":-0.09},{"s":"lag2","g":2,"t":2023.51,"v":-0.135},{"s":"lag2","g":2,"t":2023.65,"v":-0.09},{"s":"lag2","g":2,"t":2023.79,"v":0.0},{"s":"lag2","g":2,"t":2023.93,"v":0.03},{"s":"lag2","g":2,"t":2023.98,"v":0.04}
],
"b": [
{"t":2006.33,"v":0.673},{"t":2006.52,"v":0.683},{"t":2006.74,"v":0.687},{"t":2006.95,"v":0.683},{"t":2007.14,"v":0.663},{"t":2007.33,"v":0.653},{"t":2007.5,"v":0.657},{"t":2007.69,"v":0.677},{"t":2007.88,"v":0.683},{"t":2007.96,"v":0.717},{"t":2008.1,"v":0.724},{"t":2008.23,"v":0.704},{"t":2008.36,"v":0.714},{"t":2008.5,"v":0.724},{"t":2008.63,"v":0.693},{"t":2008.77,"v":0.657},{"t":2008.9,"v":0.653},{"t":2009.12,"v":0.65},{"t":2009.26,"v":0.6},{"t":2009.45,"v":0.613},{"t":2009.58,"v":0.607},{"t":2009.72,"v":0.6},{"t":2009.85,"v":0.613},{"t":2010.04,"v":0.637},{"t":2010.2,"v":0.623},{"t":2010.34,"v":0.647},{"t":2010.47,"v":0.633},{"t":2010.59,"v":0.657},{"t":2010.75,"v":0.628},{"t":2010.94,"v":0.643},{"t":2011.13,"v":0.657},{"t":2011.34,"v":0.667},{"t":2011.48,"v":0.673},{"t":2011.67,"v":0.663},{"t":2011.83,"v":0.653},{"t":2012.02,"v":0.643},{"t":2012.21,"v":0.653},{"t":2012.42,"v":0.657},{"t":2012.56,"v":0.673},{"t":2012.7,"v":0.724},{"t":2012.89,"v":0.724},{"t":2013.11,"v":0.724},{"t":2013.24,"v":0.69},{"t":2013.32,"v":0.734},{"t":2013.46,"v":0.74},{"t":2013.6,"v":0.737},{"t":2013.73,"v":0.714},{"t":2013.84,"v":0.717},{"t":2013.97,"v":0.683},{"t":2014.11,"v":0.663},{"t":2014.27,"v":0.657},{"t":2014.46,"v":0.653},{"t":2014.6,"v":0.643},{"t":2014.73,"v":0.633},{"t":2014.92,"v":0.643},{"t":2015.08,"v":0.637},{"t":2015.27,"v":0.643},{"t":2015.46,"v":0.653},{"t":2015.62,"v":0.643},{"t":2015.82,"v":0.628},{"t":2016.0,"v":0.637},{"t":2016.22,"v":0.643},{"t":2016.44,"v":0.633},{"t":2016.63,"v":0.617},{"t":2016.82,"v":0.623},{"t":2017.03,"v":0.613},{"t":2017.17,"v":0.623},{"t":2017.3,"v":0.613},{"t":2017.44,"v":0.653},{"t":2017.63,"v":0.657},{"t":2017.79,"v":0.663},{"t":2017.98,"v":0.673},{"t":2018.12,"v":0.683},{"t":2018.2,"v":0.714},{"t":2018.31,"v":0.673},{"t":2018.45,"v":0.667},{"t":2018.61,"v":0.653},{"t":2018.74,"v":0.663},{"t":2018.88,"v":0.647},{"t":2019.01,"v":0.643},{"t":2019.15,"v":0.653},{"t":2019.34,"v":0.637},{"t":2019.53,"v":0.633},{"t":2019.75,"v":0.633},{"t":2019.94,"v":0.628},{"t":2020.1,"v":0.643},{"t":2020.23,"v":0.613},{"t":2020.34,"v":0.6},{"t":2020.5,"v":0.62},{"t":2020.64,"v":0.603},{"t":2020.83,"v":0.613},{"t":2021.02,"v":0.607},{"t":2021.24,"v":0.623},{"t":2021.42,"v":0.613},{"t":2021.64,"v":0.603},{"t":2021.83,"v":0.613},{"t":2021.99,"v":0.6},{"t":2022.18,"v":0.593},{"t":2022.32,"v":0.583},{"t":2022.45,"v":0.613},{"t":2022.59,"v":0.633},{"t":2022.72,"v":0.637},{"t":2022.86,"v":0.657},{"t":2023.0,"v":0.653},{"t":2023.13,"v":0.657},{"t":2023.27,"v":0.637},{"t":2023.4,"v":0.653},{"t":2023.54,"v":0.663},{"t":2023.67,"v":0.653},{"t":2023.81,"v":0.633},{"t":2023.89,"v":0.617},{"t":2023.97,"v":0.633}
],
"d": [
{"t":2006.33,"v":0.61},{"t":2006.47,"v":0.613},{"t":2006.55,"v":0.605},{"t":2006.6,"v":0.54},{"t":2006.65,"v":0.51},{"t":2006.79,"v":0.495},{"t":2006.95,"v":0.488},{"t":2007.09,"v":0.478},{"t":2007.17,"v":0.458},{"t":2007.22,"v":0.466},{"t":2007.33,"v":0.458},{"t":2007.41,"v":0.424},{"t":2007.55,"v":0.416},{"t":2007.63,"v":0.39},{"t":2007.71,"v":0.34},{"t":2007.82,"v":0.348},{"t":2007.96,"v":0.373},{"t":2008.1,"v":0.37},{"t":2008.23,"v":0.331},{"t":2008.36,"v":0.323},{"t":2008.5,"v":0.331},{"t":2008.63,"v":0.32},{"t":2008.77,"v":0.302},{"t":2008.9,"v":0.297},{"t":2009.04,"v":0.309},{"t":2009.18,"v":0.323},{"t":2009.26,"v":0.331},{"t":2009.31,"v":0.314},{"t":2009.39,"v":0.326},{"t":2009.5,"v":0.297},{"t":2009.58,"v":0.289},{"t":2009.66,"v":0.323},{"t":2009.77,"v":0.314},{"t":2009.91,"v":0.357},{"t":2010.04,"v":0.39},{"t":2010.15,"v":0.394},{"t":2010.26,"v":0.377},{"t":2010.4,"v":0.365},{"t":2010.53,"v":0.348},{"t":2010.67,"v":0.399},{"t":2010.8,"v":0.441},{"t":2010.94,"v":0.432},{"t":2011.07,"v":0.444},{"t":2011.21,"v":0.441},{"t":2011.34,"v":0.475},{"t":2011.42,"v":0.5},{"t":2011.56,"v":0.492},{"t":2011.7,"v":0.483},{"t":2011.8,"v":0.495},{"t":2011.94,"v":0.461},{"t":2012.08,"v":0.45},{"t":2012.21,"v":0.458},{"t":2012.37,"v":0.466},{"t":2012.56,"v":0.478},{"t":2012.75,"v":0.488},{"t":2012.91,"v":0.5},{"t":2013.05,"v":0.517},{"t":2013.16,"v":0.534},{"t":2013.27,"v":0.483},{"t":2013.35,"v":0.508},{"t":2013.43,"v":0.492},{"t":2013.51,"v":0.517},{"t":2013.59,"v":0.525},{"t":2013.67,"v":0.5},{"t":2013.78,"v":0.514},{"t":2013.86,"v":0.483},{"t":2013.97,"v":0.458},{"t":2014.11,"v":0.432},{"t":2014.27,"v":0.441},{"t":2014.38,"v":0.45},{"t":2014.52,"v":0.428},{"t":2014.65,"v":0.441},{"t":2014.79,"v":0.424},{"t":2014.92,"v":0.45},{"t":2015.05,"v":0.441},{"t":2015.19,"v":0.432},{"t":2015.33,"v":0.444},{"t":2015.41,"v":0.407},{"t":2015.52,"v":0.432},{"t":2015.62,"v":0.427},{"t":2015.73,"v":0.436},{"t":2015.87,"v":0.424},{"t":2016.0,"v":0.427},{"t":2016.17,"v":0.432},{"t":2016.3,"v":0.441},{"t":2016.44,"v":0.458},{"t":2016.57,"v":0.45},{"t":2016.68,"v":0.432},{"t":2016.76,"v":0.416},{"t":2016.9,"v":0.424},{"t":2017.04,"v":0.399},{"t":2017.17,"v":0.365},{"t":2017.31,"v":0.323},{"t":2017.41,"v":0.365},{"t":2017.52,"v":0.399},{"t":2017.63,"v":0.427},{"t":2017.74,"v":0.399},{"t":2017.85,"v":0.373},{"t":2017.98,"v":0.407},{"t":2018.12,"v":0.458},{"t":2018.2,"v":0.483},{"t":2018.28,"v":0.441},{"t":2018.39,"v":0.441},{"t":2018.53,"v":0.466},{"t":2018.67,"v":0.478},{"t":2018.8,"v":0.488},{"t":2018.94,"v":0.483},{"t":2019.07,"v":0.466},{"t":2019.2,"v":0.458},{"t":2019.34,"v":0.382},{"t":2019.42,"v":0.357},{"t":2019.5,"v":0.373},{"t":2019.61,"v":0.348},{"t":2019.75,"v":0.357},{"t":2019.88,"v":0.345},{"t":2020.02,"v":0.353},{"t":2020.15,"v":0.331},{"t":2020.29,"v":0.323},{"t":2020.42,"v":0.306},{"t":2020.56,"v":0.289},{"t":2020.69,"v":0.297},{"t":2020.83,"v":0.272},{"t":2020.96,"v":0.23},{"t":2021.04,"v":0.272},{"t":2021.18,"v":0.28},{"t":2021.32,"v":0.284},{"t":2021.45,"v":0.289},{"t":2021.59,"v":0.272},{"t":2021.7,"v":0.289},{"t":2021.83,"v":0.264},{"t":2021.97,"v":0.289},{"t":2022.1,"v":0.272},{"t":2022.24,"v":0.255},{"t":2022.32,"v":0.235},{"t":2022.45,"v":0.272},{"t":2022.59,"v":0.306},{"t":2022.72,"v":0.331},{"t":2022.83,"v":0.34},{"t":2022.94,"v":0.28},{"t":2023.05,"v":0.247},{"t":2023.16,"v":0.272},{"t":2023.27,"v":0.28},{"t":2023.4,"v":0.289},{"t":2023.54,"v":0.284},{"t":2023.62,"v":0.331},{"t":2023.7,"v":0.39},{"t":2023.78,"v":0.35},{"t":2023.88,"v":0.35},{"t":2023.97,"v":0.385}
]
},
"vconcat": [
 {"hconcat": [
  {"width": 228, "height": 151,
   "view": {"stroke": "#222", "strokeWidth": 0.9},
   "title": {"text": "(a).", "dx": -38, "offset": 4},
   "data": {"name": "a"},
   "resolve": {"axis": {"x": "independent", "y": "independent"}},
   "layer": [
    {"mark": {"type": "line", "strokeWidth": 1.1, "clip": true},
     "encoding": {
      "x": {"field": "t", "type": "quantitative", "scale": {"domain": [2005.8, 2024.8], "nice": false, "zero": false}, "axis": {"values": [2006,2008,2010,2012,2014,2016,2018,2020,2022,2024], "format": "d", "title": null, "labelOverlap": false}},
      "y": {"field": "v", "type": "quantitative", "scale": {"domain": [-0.411, 0.388], "nice": false, "zero": false}, "axis": {"values": [-0.4,-0.3,-0.2,-0.1,0,0.1,0.2,0.3], "format": ".1f", "title": "Correlation", "labelOverlap": false}},
      "color": {"field": "s", "type": "nominal", "scale": {"domain": ["lag-2","lag-1","lag0","lag1","lag2"], "range": ["#1f77b4","#ff7f0e","#2ca02c","#d62728","#9467bd"]},
        "legend": {"title": null, "orient": "none", "legendX": 4, "legendY": 3, "labelFontSize": 6, "symbolType": "M-1.85,0H1.85", "symbolSize": 49, "symbolStrokeWidth": 1.6, "symbolOffset": 3, "labelOffset": 7, "rowPadding": 2, "padding": 3, "strokeColor": "#ccc", "fillColor": "white", "cornerRadius": 2}},
      "detail": {"field": "g", "type": "nominal"}
     }},
    {"data": {"values": [{}]}, "mark": {"type": "rule", "color": "black", "strokeWidth": 1}, "encoding": {"y": {"datum": 0, "type": "quantitative", "axis": null}}}
   ]},
  {"width": 237, "height": 147,
   "view": {"stroke": null},
   "title": {"text": "(b).", "dx": -26, "offset": 2},
   "data": {"name": "b"},
   "resolve": {"axis": {"x": "independent", "y": "independent"}},
   "layer": [
    {"mark": {"type": "line", "strokeWidth": 1.1, "color": "#1f80c4", "clip": true},
     "encoding": {
      "x": {"field": "t", "type": "quantitative", "scale": {"domain": [2005.45, 2024.75], "nice": false, "zero": false}, "axis": {"values": [2006,2008,2010,2012,2014,2016,2018,2020,2022,2024], "format": "d", "title": null, "labelPadding": 5, "labelOverlap": false}},
      "y": {"field": "v", "type": "quantitative", "scale": {"domain": [-0.053, 0.839], "nice": false, "zero": false}, "axis": {"values": [0,0.1,0.2,0.3,0.4,0.5,0.6,0.7], "format": ".1f", "title": "Autocorrelation", "labelOverlap": false}}
     }},
    {"data": {"values": [{}]}, "mark": {"type": "rule", "color": "#222", "strokeWidth": 1}, "encoding": {"y": {"datum": 0, "type": "quantitative", "axis": null}}},
    {"data": {"values": [{}]}, "mark": {"type": "rect", "fill": "transparent", "stroke": "#555", "strokeWidth": 0.9},
     "encoding": {"x": {"datum": 2005.45, "type": "quantitative", "axis": null}, "x2": {"datum": 2024.75}, "y": {"datum": -0.051, "type": "quantitative", "axis": null}, "y2": {"datum": 0.778}}}
   ]}
 ], "spacing": 12, "resolve": {"scale": {"color": "independent"}, "legend": {"color": "independent"}}},
 {"hconcat": [
  {"width": 228, "height": 134,
   "view": {"stroke": "#222", "strokeWidth": 0.9},
   "title": {"text": "(c).", "dx": -38, "offset": 2},
   "data": {"name": "c"},
   "resolve": {"axis": {"x": "independent", "y": "independent"}},
   "layer": [
    {"mark": {"type": "line", "strokeWidth": 1.1, "clip": true},
     "encoding": {
      "x": {"field": "t", "type": "quantitative", "scale": {"domain": [2005.92, 2024.8], "nice": false, "zero": false}, "axis": {"values": [2006,2008,2010,2012,2014,2016,2018,2020,2022,2024], "format": "d", "title": null, "labelPadding": 4, "labelOverlap": false}},
      "y": {"field": "v", "type": "quantitative", "scale": {"domain": [-0.354, 0.478], "nice": false, "zero": false}, "axis": {"values": [-0.3,-0.2,-0.1,0,0.1,0.2,0.3,0.4], "format": ".1f", "title": "Correlation", "titlePadding": 6, "labelOverlap": false}},
      "color": {"field": "s", "type": "nominal", "scale": {"domain": ["lag-2","lag-1","lag0","lag1","lag2"], "range": ["#1f77b4","#ff7f0e","#2ca02c","#d62728","#9467bd"]},
        "legend": {"title": null, "orient": "none", "legendX": 142, "legendY": 91, "labelFontSize": 5, "symbolType": "M-1.8,0H1.8", "symbolSize": 25, "symbolStrokeWidth": 1.3, "symbolOffset": 2, "labelOffset": 5, "rowPadding": 0, "padding": 2.5, "strokeColor": "#ccc", "fillColor": "white", "cornerRadius": 2}},
      "detail": {"field": "g", "type": "nominal"}
     }},
    {"data": {"values": [{}]}, "mark": {"type": "rule", "color": "black", "strokeWidth": 1}, "encoding": {"y": {"datum": 0, "type": "quantitative", "axis": null}}}
   ]},
  {"width": 236, "height": 134,
   "view": {"stroke": "#555", "strokeWidth": 0.9},
   "title": {"text": "(d).", "dx": -27, "offset": 2},
   "data": {"name": "d"},
   "resolve": {"axis": {"x": "independent", "y": "independent"}},
   "layer": [
    {"mark": {"type": "line", "strokeWidth": 1.1, "color": "#1f80c4", "clip": true},
     "encoding": {
      "x": {"field": "t", "type": "quantitative", "scale": {"domain": [2005.45, 2024.75], "nice": false, "zero": false}, "axis": {"values": [2006,2008,2010,2012,2014,2016,2018,2020,2022,2024], "format": "d", "title": null, "labelPadding": 4, "labelOverlap": false}},
      "y": {"field": "v", "type": "quantitative", "scale": {"domain": [-0.028, 0.651], "nice": false, "zero": false}, "axis": {"values": [0,0.1,0.2,0.3,0.4,0.5,0.6], "format": ".1f", "title": "Autocorrelation", "labelOverlap": false}}
     }},
    {"data": {"values": [{}]}, "mark": {"type": "rule", "color": "#222", "strokeWidth": 1}, "encoding": {"y": {"datum": 0, "type": "quantitative", "axis": null}}}
   ]}
 ], "spacing": 12, "resolve": {"scale": {"color": "independent"}, "legend": {"color": "independent"}}}
],
"spacing": 17
}
